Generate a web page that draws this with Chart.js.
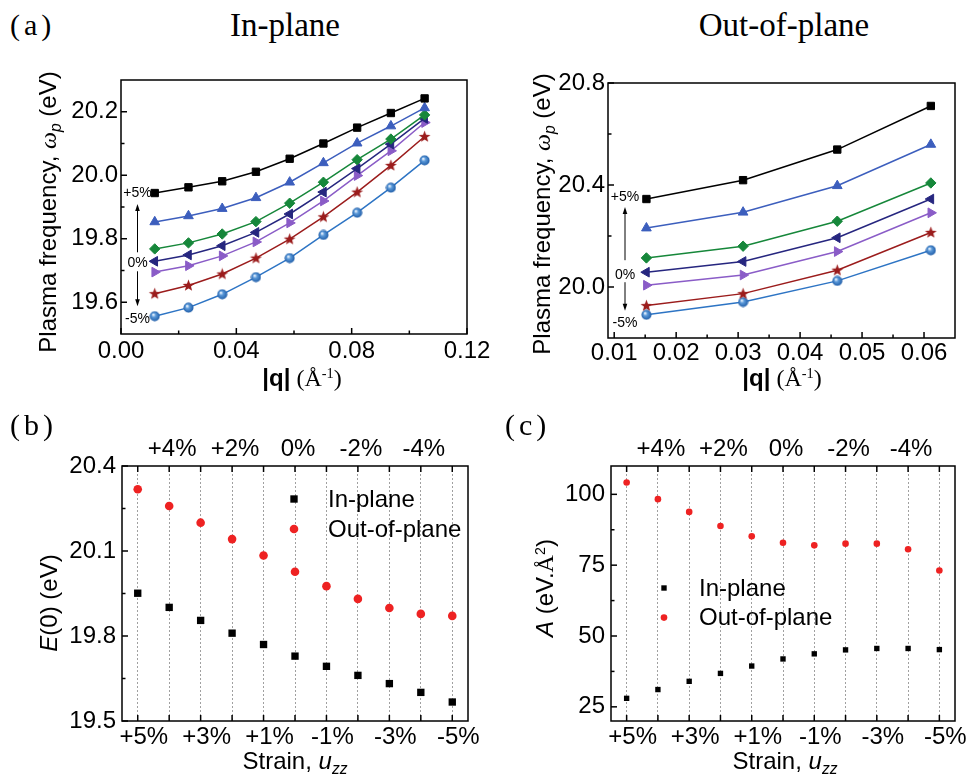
<!DOCTYPE html>
<html>
<head>
<meta charset="utf-8">
<title>Plasma frequency under strain</title>
<script src="https://cdn.jsdelivr.net/npm/chart.js@4.4.1/dist/chart.umd.min.js"></script>
<style>
  html, body { margin: 0; padding: 0; background: #fff; }
  #fig { position: relative; width: 968px; height: 776px; overflow: hidden; font-family: "Liberation Sans", Arial, sans-serif; color: #000; }
  #fig canvas { position: absolute; }
  .txt { position: absolute; white-space: nowrap; line-height: 1; z-index: 2; }
  .panel { font-family: "Liberation Serif", "Times New Roman", serif; font-size: 30px; letter-spacing: 4px; }
  .head { font-family: "Liberation Serif", "Times New Roman", serif; font-size: 33px; transform: translateX(-50%); }
  .ax { font-size: 24px; transform: translate(-50%, -50%); }
  .ax.rot { transform: translate(-50%, -50%) rotate(-90deg); }
  .serif { font-family: "Liberation Serif", "Times New Roman", serif; }
  .sub { position: relative; top: 0.35em; font-size: 0.65em; }
  .sup { position: relative; top: -0.55em; font-size: 0.6em; }
</style>
</head>
<body>
<div id="fig">
  <canvas id="inPlane" width="500" height="340" style="left:0;top:60px;width:500px;height:340px"></canvas>
  <canvas id="outPlane" width="478" height="340" style="left:490px;top:60px;width:478px;height:340px"></canvas>
  <canvas id="energy" width="490" height="376" style="left:0;top:400px;width:490px;height:376px"></canvas>
  <canvas id="coef" width="478" height="376" style="left:490px;top:400px;width:478px;height:376px"></canvas>

  <div class="txt panel" style="left:10px;top:10px">(a)</div>
  <div class="txt head" style="left:285px;top:9px">In-plane</div>
  <div class="txt head" style="left:784px;top:9px">Out-of-plane</div>
  <div class="txt panel" style="left:10px;top:410px">(b)</div>
  <div class="txt panel" style="left:505px;top:410px">(c)</div>

  <div class="txt ax rot" style="left:48px;top:212px">Plasma frequency, <i class="serif">ω</i><i class="sub">p</i> (eV)</div>
  <div class="txt ax" style="left:302px;top:378px"><b>|q|</b><span class="serif"> (Å<span class="sup">-1</span>)</span></div>
  <div class="txt ax rot" style="left:542px;top:214px">Plasma frequency, <i class="serif">ω</i><i class="sub">p</i> (eV)</div>
  <div class="txt ax" style="left:782px;top:378px"><b>|q|</b><span class="serif"> (Å<span class="sup">-1</span>)</span></div>
  <div class="txt ax rot" style="left:49px;top:603px"><i>E</i>(0) (eV)</div>
  <div class="txt ax" style="left:295px;top:761px">Strain, <i>u</i><i class="sub">zz</i></div>
  <div class="txt ax rot" style="left:545px;top:588px"><i>A</i> (eV.<span class="serif">Å</span><span class="sup">2</span>)</div>
  <div class="txt ax" style="left:785px;top:761px">Strain, <i>u</i><i class="sub">zz</i></div>
</div>

<script>
// ---- (a) in-plane dispersion, |q| in 1/Å, omega_p in eV
const qIn = [0.0117, 0.0234, 0.0351, 0.0468, 0.0585, 0.0702, 0.0819, 0.0936, 0.1053];
const inBlack = [19.944, 19.962, 19.981, 20.011, 20.052, 20.100, 20.150, 20.196, 20.242];
const inBlue = [19.853, 19.872, 19.895, 19.929, 19.978, 20.039, 20.101, 20.155, 20.212];
const inGreen = [19.768, 19.787, 19.815, 19.854, 19.912, 19.978, 20.049, 20.114, 20.190];
const inNavy = [19.729, 19.749, 19.778, 19.820, 19.878, 19.947, 20.021, 20.098, 20.179];
const inPurple = [19.695, 19.715, 19.746, 19.790, 19.850, 19.919, 19.999, 20.077, 20.166];
const inRed = [19.627, 19.653, 19.689, 19.739, 19.799, 19.869, 19.947, 20.031, 20.122];
const inSky = [19.556, 19.583, 19.625, 19.679, 19.739, 19.812, 19.882, 19.961, 20.047];

// ---- (a) out-of-plane dispersion
const qOut = [0.0152, 0.0308, 0.0460, 0.0611];
const outBlack = [20.345, 20.419, 20.539, 20.710];
const outBlue = [20.231, 20.293, 20.397, 20.559];
const outGreen = [20.114, 20.160, 20.258, 20.408];
const outNavy = [20.058, 20.100, 20.193, 20.345];
const outPurple = [20.007, 20.047, 20.139, 20.291];
const outRed = [19.927, 19.974, 20.066, 20.214];
const outSky = [19.891, 19.941, 20.024, 20.144];

// ---- (b) E(0) and (c) A versus strain (%)
const strain = [5, 4, 3, 2, 1, 0, -1, -2, -3, -4, -5];
const e0In = [19.951, 19.901, 19.855, 19.810, 19.770, 19.729, 19.693, 19.661, 19.632, 19.601, 19.567];
const e0Out = [20.318, 20.259, 20.200, 20.142, 20.084, 20.027, 19.976, 19.931, 19.899, 19.878, 19.871];
const aIn = [28.0, 31.1, 34.0, 36.8, 39.4, 41.9, 43.7, 45.1, 45.6, 45.6, 45.2];
const aOut = [104.2, 98.3, 93.8, 88.8, 85.2, 82.9, 82.0, 82.6, 82.6, 80.6, 73.1];

// ---- tick values
const qInMajor = [0, 0.04, 0.08, 0.12];
const qInMinor = [0.02, 0.06, 0.10];
const wInMajor = [19.6, 19.8, 20.0, 20.2];
const wInMinor = [19.7, 19.9, 20.1];
const qOutMajor = [0.01, 0.02, 0.03, 0.04, 0.05, 0.06];
const qOutMinor = [0.015, 0.025, 0.035, 0.045, 0.055];
const wOutMajor = [20.0, 20.4, 20.8];
const wOutMinor = [20.2, 20.6];
const e0Major = [19.5, 19.8, 20.1, 20.4];
const e0Minor = [19.65, 19.95, 20.25];
const aMajor = [25, 50, 75, 100];
const aMinor = [37.5, 62.5, 87.5];
const strainLabels = ["+5%", "+3%", "+1%", "-1%", "-3%", "-5%"];
const strainTopLabels = ["+4%", "+2%", "0%", "-2%", "-4%"];

const COLORS = {
  black: "#000000",
  blue: "#3c5ebd",
  green: "#16873a",
  navy: "#26267f",
  purple: "#8a5cc7",
  red: "#9b1c1c",
  sky: "#2d74c4",
  dot: "#ee2222",
};

Chart.defaults.font.family = "'Liberation Sans', Arial, sans-serif";
Chart.defaults.font.size = 24;
Chart.defaults.color = "#000";

// filled star and shaded sphere markers (built-in ones don't match)
function starMarker(color) {
  const c = document.createElement("canvas");
  c.width = 13; c.height = 13;
  const g = c.getContext("2d");
  g.beginPath();
  for (let i = 0; i < 10; i++) {
    const r = i % 2 === 0 ? 6.2 : 2.6;
    const ang = -Math.PI / 2 + i * Math.PI / 5;
    g.lineTo(6.5 + r * Math.cos(ang), 6.8 + r * Math.sin(ang));
  }
  g.closePath();
  g.fillStyle = color;
  g.fill();
  return c;
}

function sphereMarker() {
  const c = document.createElement("canvas");
  c.width = 11; c.height = 11;
  const g = c.getContext("2d");
  const grad = g.createRadialGradient(4, 3.8, 0.4, 5.5, 5.5, 5.2);
  grad.addColorStop(0, "#eef5ff");
  grad.addColorStop(0.35, "#5c9ad9");
  grad.addColorStop(1, "#1c5aa6");
  g.beginPath();
  g.arc(5.5, 5.5, 5, 0, Math.PI * 2);
  g.fillStyle = grad;
  g.fill();
  return c;
}

function pairs(xs, ys) {
  return xs.map((x, i) => ({ x: x, y: ys[i] }));
}

function setTicks(major, minor) {
  return (scale) => {
    const list = major.map((v) => ({ value: v, isMajor: true }))
      .concat(minor.map((v) => ({ value: v, isMajor: false })));
    list.sort((a, b) => a.value - b.value);
    scale.ticks = list;
  };
}

// box frame + inward tick marks
const framePlugin = {
  id: "frame",
  afterDatasetsDraw(chart, args, opts) {
    const { ctx, chartArea: a } = chart;
    ctx.save();
    ctx.strokeStyle = "#000";
    ctx.lineWidth = 1.5;
    Object.values(chart.scales).forEach((scale) => {
      (scale.ticks || []).forEach((t) => {
        const len = t.isMajor ? opts.major : opts.minor;
        const p = scale.getPixelForValue(t.value);
        ctx.beginPath();
        if (scale.axis === "x") {
          if (scale.position === "top") { ctx.moveTo(p, a.top); ctx.lineTo(p, a.top + len); }
          else { ctx.moveTo(p, a.bottom); ctx.lineTo(p, a.bottom - len); }
        } else {
          ctx.moveTo(a.left, p); ctx.lineTo(a.left + len, p);
        }
        ctx.stroke();
      });
    });
    ctx.strokeRect(a.left, a.top, a.width, a.height);
    ctx.restore();
  },
};

function arrowLine(ctx, x, from, to) {
  const dir = Math.sign(to - from);
  ctx.beginPath();
  ctx.moveTo(x, from);
  ctx.lineTo(x, to - dir * 5);
  ctx.stroke();
  ctx.beginPath();
  ctx.moveTo(x, to);
  ctx.lineTo(x - 2.3, to - dir * 7);
  ctx.lineTo(x + 2.3, to - dir * 7);
  ctx.closePath();
  ctx.fill();
}

// +5% / 0% / -5% marks with arrows on the dispersion panels
const strainNote = {
  id: "strainNote",
  afterDatasetsDraw(chart, args, opts) {
    const { ctx, chartArea: a } = chart;
    const x = a.left + opts.dx;
    const ys = opts.rows.map((r) => chart.getDatasetMeta(r.ds).data[0].y + r.dy);
    ctx.save();
    ctx.font = "14px 'Liberation Sans', Arial, sans-serif";
    ctx.fillStyle = "#000";
    ctx.strokeStyle = "#000";
    ctx.lineWidth = 1;
    ctx.textAlign = "center";
    ctx.textBaseline = "middle";
    opts.rows.forEach((r, i) => ctx.fillText(r.text, x, ys[i]));
    arrowLine(ctx, x, ys[1] - opts.up[1], ys[0] + opts.up[0]);
    arrowLine(ctx, x, ys[1] + opts.down[0], ys[2] - opts.down[1]);
    ctx.restore();
  },
};

// legend drawn inside the plot box
const insetLegend = {
  id: "insetLegend",
  afterDatasetsDraw(chart, args, opts) {
    const { ctx, chartArea: a } = chart;
    ctx.save();
    ctx.font = "24px 'Liberation Sans', Arial, sans-serif";
    ctx.textBaseline = "middle";
    chart.data.datasets.forEach((ds, i) => {
      const x = a.left + opts.x;
      const y = a.top + opts.y + i * opts.gap;
      const r = ds.pointRadius;
      ctx.fillStyle = ds.backgroundColor;
      if (ds.pointStyle === "rect") {
        const s = r * Math.SQRT1_2;
        ctx.fillRect(x - s, y - s, 2 * s, 2 * s);
      } else {
        ctx.beginPath();
        ctx.arc(x, y, r, 0, Math.PI * 2);
        ctx.fill();
      }
      ctx.fillStyle = "#000";
      ctx.fillText(ds.label, x + opts.textDx, y + 1);
    });
    ctx.restore();
  },
};

function lineSet(xs, ys, color, style, radius, rotation) {
  return {
    data: pairs(xs, ys),
    borderColor: color,
    backgroundColor: color,
    pointBackgroundColor: color,
    pointBorderColor: color,
    borderWidth: 1.5,
    pointBorderWidth: 1,
    pointStyle: style,
    pointRadius: radius,
    pointRotation: rotation || 0,
    tension: 0,
  };
}

function yAxis(min, max, major, minor, width, pad, digits) {
  return {
    type: "linear",
    min: min,
    max: max,
    afterBuildTicks: setTicks(major, minor),
    afterFit: (s) => { s.width = width; },
    grid: { display: false, drawTicks: false },
    border: { display: false },
    ticks: {
      padding: pad,
      autoSkip: false,
      callback: (v, i, t) => (t[i].isMajor ? v.toFixed(digits) : ""),
    },
  };
}

function dispersionChart(id, qs, series, xr, xMajor, xMinor, yr, yMajor, yMinor, box, note) {
  const styles = [
    ["rect", 5.2, 0], ["triangle", 5.6, 0], ["rectRot", 5.2, 0], ["triangle", 5.6, -90],
    ["triangle", 5.6, 90], [starMarker(COLORS.red), 5, 0], [sphereMarker(), 5, 0],
  ];
  const colors = [COLORS.black, COLORS.blue, COLORS.green, COLORS.navy, COLORS.purple, COLORS.red, COLORS.sky];
  return new Chart(document.getElementById(id), {
    type: "line",
    data: {
      datasets: series.map((ys, i) => lineSet(qs, ys, colors[i], styles[i][0], styles[i][1], styles[i][2])),
    },
    options: {
      responsive: false,
      animation: false,
      layout: { padding: { left: 0, top: box.top, right: box.right, bottom: 0 } },
      plugins: { legend: { display: false }, tooltip: { enabled: false }, frame: { major: 6, minor: 3.5 }, strainNote: note },
      scales: {
        x: {
          type: "linear",
          min: xr[0],
          max: xr[1],
          afterBuildTicks: setTicks(xMajor, xMinor),
          afterFit: (s) => { s.height = box.bottom; },
          grid: { display: false, drawTicks: false },
          border: { display: false },
          ticks: {
            padding: box.xPad,
            autoSkip: false,
            maxRotation: 0,
            callback: (v, i, t) => (t[i].isMajor ? v.toFixed(2) : ""),
          },
        },
        y: yAxis(yr[0], yr[1], yMajor, yMinor, box.left, 3, 1),
      },
    },
    plugins: [framePlugin, strainNote],
  });
}

dispersionChart("inPlane", qIn, [inBlack, inBlue, inGreen, inNavy, inPurple, inRed, inSky],
  [0, 0.12], qInMajor, qInMinor, [19.5, 20.3], wInMajor, wInMinor,
  { left: 121, top: 20, right: 33, bottom: 66, xPad: 3 },
  { dx: 16.5, rows: [{ ds: 0, dy: 0, text: "+5%" }, { ds: 3, dy: 2, text: "0%" }, { ds: 6, dy: 3, text: "-5%" }], up: [11, 11], down: [8, 13] });

dispersionChart("outPlane", qOut, [outBlack, outBlue, outGreen, outNavy, outPurple, outRed, outSky],
  [0.009, 0.065], qOutMajor, qOutMinor, [19.8, 20.8], wOutMajor, wOutMinor,
  { left: 118, top: 23, right: 13, bottom: 62, xPad: 1 },
  { dx: 17, rows: [{ ds: 0, dy: -2, text: "+5%" }, { ds: 3, dy: 3, text: "0%" }, { ds: 6, dy: 8, text: "-5%" }], up: [10, 15], down: [7, 12] });

function strainChart(id, inVals, outVals, yr, yMajor, yMinor, box, sizes, legendPos) {
  const allInts = strain.slice();
  return new Chart(document.getElementById(id), {
    type: "scatter",
    data: {
      datasets: [
        { label: "In-plane", data: pairs(strain, inVals), pointStyle: "rect", pointRadius: sizes[0], backgroundColor: COLORS.black, borderColor: COLORS.black, pointBorderWidth: 0 },
        { label: "Out-of-plane", data: pairs(strain, outVals), pointStyle: "circle", pointRadius: sizes[1], backgroundColor: COLORS.dot, borderColor: COLORS.dot, pointBorderWidth: 0 },
      ],
    },
    options: {
      responsive: false,
      animation: false,
      layout: { padding: { left: 0, top: 0, right: box.right, bottom: 0 } },
      plugins: { legend: { display: false }, tooltip: { enabled: false }, frame: { major: 6, minor: 3.5 }, insetLegend: legendPos },
      scales: {
        x: {
          type: "linear",
          position: "bottom",
          reverse: true,
          min: -5.5,
          max: 5.5,
          afterBuildTicks: setTicks(allInts, []),
          afterFit: (s) => { s.height = box.bottom; },
          grid: { display: true, drawTicks: false, color: "#a0a0a0", lineWidth: 1 },
          border: { display: false, dash: [2, 2] },
          ticks: {
            padding: 2,
            labelOffset: 6,
            autoSkip: false,
            maxRotation: 0,
            callback: (v) => (Math.abs(v) % 2 === 1 ? strainLabels[(5 - v) / 2] : ""),
          },
        },
        x2: {
          type: "linear",
          position: "top",
          axis: "x",
          reverse: true,
          min: -5.5,
          max: 5.5,
          afterBuildTicks: setTicks(allInts, []),
          afterFit: (s) => { s.height = box.top; },
          grid: { display: false, drawTicks: false },
          border: { display: false },
          ticks: {
            padding: 2,
            labelOffset: 3,
            autoSkip: false,
            maxRotation: 0,
            callback: (v) => (Math.abs(v) % 2 === 0 ? strainTopLabels[(4 - v) / 2] : ""),
          },
        },
        y: yAxis(yr[0], yr[1], yMajor, yMinor, box.left, 6, box.digits),
      },
    },
    plugins: [framePlugin, insetLegend],
  });
}

strainChart("energy", e0In, e0Out, [19.5, 20.4], e0Major, e0Minor,
  { left: 122, top: 66, right: 22, bottom: 55, digits: 1 }, [5.2, 4.3],
  { x: 172, y: 33, gap: 30, textDx: 34 });

strainChart("coef", aIn, aOut, [20, 110], aMajor, aMinor,
  { left: 121, top: 66, right: 13, bottom: 55, digits: 0 }, [3.8, 3.3],
  { x: 53, y: 122, gap: 29.6, textDx: 35 });
</script>
</body>
</html>
